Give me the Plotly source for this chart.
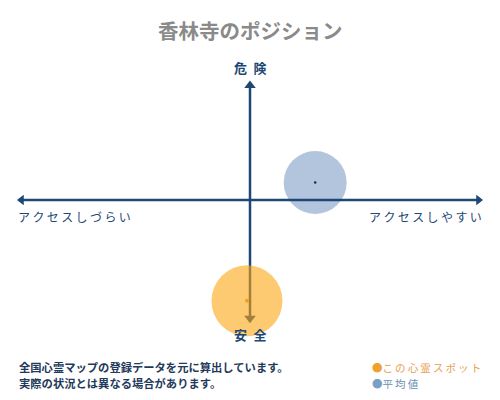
import plotly.graph_objects as go

# data
series_names = ["この心霊スポット", "平均値"]
access_values = [-0.013, 0.281]     # x: アクセスしづらい(-1) .. アクセスしやすい(+1)
danger_values = [-0.84, 0.146]      # y: 安全(-1) .. 危険(+1)
bubble_sizes = [71, 63]
title_text = "香林寺のポジション"
axis_labels = {"top": "危険", "bottom": "安全", "left": "アクセスしづらい", "right": "アクセスしやすい"}
notes = ["全国心霊マップの登録データを元に算出しています。", "実際の状況とは異なる場合があります。"]

NAVY = "#1d4775"
FONT = "Noto Sans CJK JP"

W, H = 500, 400
ml, mr, mt, mb = 18, 18, 80, 80
pw, ph = W - ml - mr, H - mt - mb

def px(x):  # pixel from left -> paper
    return (x - ml) / pw

def py(y):  # pixel from top -> paper
    return (H - mb - y) / ph

def spaced(s, sep="\u2009"):
    return sep.join(list(s))

fig = go.Figure()

# vertical axis (below bubbles)
fig.add_trace(go.Scatter(x=[0, 0], y=[-0.99, 0.96], mode="lines", cliponaxis=False,
                         line=dict(color=NAVY, width=2.5), hoverinfo="skip", showlegend=False))
fig.add_trace(go.Scatter(x=[0, 0], y=[0.955, -0.985], mode="markers", cliponaxis=False,
                         marker=dict(symbol=["triangle-up", "triangle-down"], size=10, color=NAVY),
                         hoverinfo="skip", showlegend=False))

# this spot bubble
fig.add_trace(go.Scatter(x=[access_values[0]], y=[danger_values[0]], mode="markers", cliponaxis=False,
                         marker=dict(size=bubble_sizes[0], color="rgba(252,165,18,0.6)", line=dict(width=0)),
                         name=series_names[0], showlegend=False))
fig.add_trace(go.Scatter(x=[access_values[0]], y=[danger_values[0]], mode="markers", cliponaxis=False,
                         marker=dict(size=4, color="#f0a020"), hoverinfo="skip", showlegend=False))
# average bubble
fig.add_trace(go.Scatter(x=[access_values[1]], y=[danger_values[1]], mode="markers", cliponaxis=False,
                         marker=dict(size=bubble_sizes[1], color="#b2c5dc", line=dict(width=0)),
                         name=series_names[1], showlegend=False))
fig.add_trace(go.Scatter(x=[access_values[1]], y=[danger_values[1]], mode="markers", cliponaxis=False,
                         marker=dict(size=2.5, color="#1a2a40"), hoverinfo="skip", showlegend=False))

# horizontal axis (above bubbles)
fig.add_trace(go.Scatter(x=[-0.985, 0.985], y=[0, 0], mode="lines", cliponaxis=False,
                         line=dict(color=NAVY, width=2.5), hoverinfo="skip", showlegend=False))
fig.add_trace(go.Scatter(x=[-0.985, 0.985], y=[0, 0], mode="markers", cliponaxis=False,
                         marker=dict(symbol=["triangle-left", "triangle-right"], size=9, color=NAVY),
                         hoverinfo="skip", showlegend=False))

ann = []
ann.append(dict(text="<b>" + title_text + "</b>", x=0.5, y=py(30), xref="paper", yref="paper",
                font=dict(family=FONT, size=20.5, color="#8a8a8a")))
ann.append(dict(text="<b>" + spaced(axis_labels["top"], "\u2002") + "</b>", x=0, y=py(67), xref="x", yref="paper",
                font=dict(family=FONT, size=13, color=NAVY)))
ann.append(dict(text="<b>" + spaced(axis_labels["bottom"], "\u2002") + "</b>", x=0, y=py(334), xref="x", yref="paper",
                font=dict(family=FONT, size=13, color=NAVY)))
lab_font = dict(family=FONT, size=12, color=NAVY)
ann.append(dict(text=spaced(axis_labels["left"]), x=px(16), y=py(216), xref="paper", yref="paper",
                xanchor="left", font=lab_font))
ann.append(dict(text=spaced(axis_labels["right"]), x=px(484), y=py(216), xref="paper", yref="paper",
                xanchor="right", font=lab_font))

note_font = dict(family=FONT, size=11.3, color="#1f3a5a")
ann.append(dict(text="<b>" + notes[0] + "</b>", x=px(17), y=py(367), xref="paper", yref="paper",
                xanchor="left", font=note_font))
ann.append(dict(text="<b>" + notes[1] + "</b>", x=px(17), y=py(383), xref="paper", yref="paper",
                xanchor="left", font=note_font))
ann.append(dict(text="<span style='color:#f0a030'>●</span>" + spaced(series_names[0]), x=px(370), y=py(367),
                xref="paper", yref="paper", xanchor="left",
                font=dict(family=FONT, size=10.5, color="#e8a050")))
ann.append(dict(text="<span style='color:#7a9fc6'>●</span>" + spaced(series_names[1]), x=px(370), y=py(383),
                xref="paper", yref="paper", xanchor="left",
                font=dict(family=FONT, size=10.5, color="#6a8fb5")))
for a in ann:
    a["showarrow"] = False
    a["yanchor"] = "middle"

fig.update_layout(
    width=W, height=H, margin=dict(l=ml, r=mr, t=mt, b=mb),
    paper_bgcolor="white", plot_bgcolor="white",
    xaxis=dict(range=[-1, 1], visible=False, fixedrange=True),
    yaxis=dict(range=[-1, 1], visible=False, fixedrange=True),
    annotations=ann, showlegend=False,
)
fig.write_html("out.html", config={"displayModeBar": False},
               post_script="document.body.style.margin='0';")
